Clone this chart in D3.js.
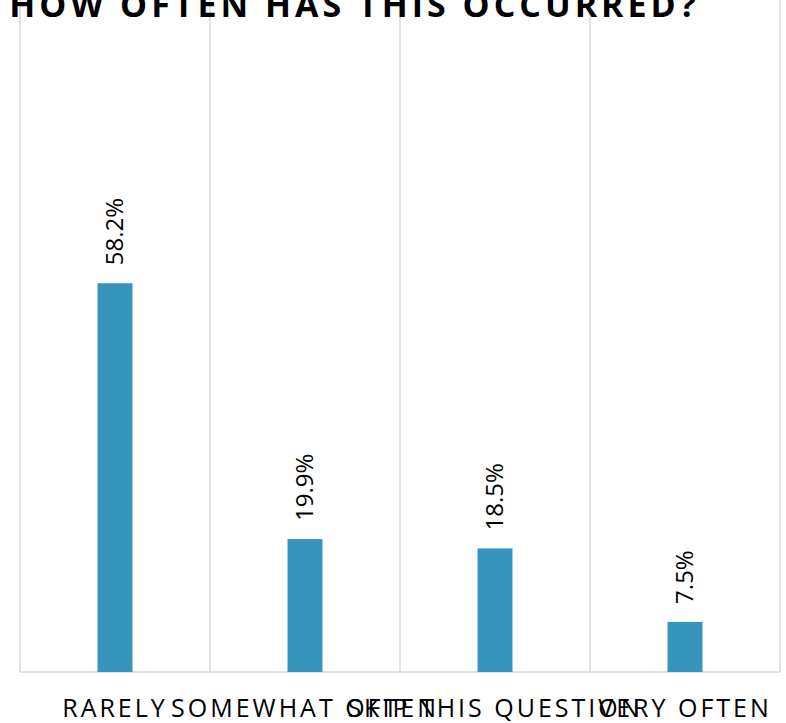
<!DOCTYPE html>
<html>
<head>
<meta charset="utf-8">
<script src="https://cdn.jsdelivr.net/npm/d3@7"></script>
<style>
  body { margin: 0; background: #fff; }
  svg { display: block; }
</style>
</head>
<body>
<div class="chart"></div>
<script>
// data
var categories = ["RARELY", "SOMEWHAT OFTEN", "SKIP THIS QUESTION", "VERY OFTEN"];
var values = [58.2, 19.9, 18.5, 7.5];
var title = "HOW OFTEN HAS THIS OCCURRED?";

var width = 786, height = 723;
var margin = { top: 4, right: 6, bottom: 51, left: 20 };

var svg = d3.select(".chart").append("svg")
    .attr("width", width)
    .attr("height", height);

var x = d3.scaleBand()
    .domain(categories)
    .range([margin.left, width - margin.right])
    .paddingInner(0).paddingOuter(0);

var y = d3.scaleLinear()
    .domain([0, 100])
    .range([height - margin.bottom, margin.top]);

// vertical gridlines at band edges
var edges = categories.map(function (c) { return x(c); }).concat([x.range()[1]]);
svg.append("g").selectAll("line")
    .data(edges)
    .enter().append("line")
    .attr("x1", function (d) { return d; })
    .attr("x2", function (d) { return d; })
    .attr("y1", 0)
    .attr("y2", y(0))
    .attr("stroke", "#d9d9d9")
    .attr("stroke-width", 1.5);

// baseline
svg.append("line")
    .attr("x1", x.range()[0]).attr("x2", x.range()[1])
    .attr("y1", y(0)).attr("y2", y(0))
    .attr("stroke", "#d9d9d9")
    .attr("stroke-width", 1.5);

var barW = 35;
svg.append("g").selectAll("rect")
    .data(values)
    .enter().append("rect")
    .attr("x", function (d, i) { return x(categories[i]) + x.bandwidth() / 2 - barW / 2; })
    .attr("y", function (d) { return y(d); })
    .attr("width", barW)
    .attr("height", function (d) { return y(0) - y(d); })
    .attr("fill", "#3795bc");

// value labels, rotated
svg.append("g").selectAll("text")
    .data(values)
    .enter().append("text")
    .attr("transform", function (d, i) {
        var cx = x(categories[i]) + x.bandwidth() / 2;
        return "translate(" + (cx + 8) + "," + (y(d) - 18) + ") rotate(-90)";
    })
    .attr("text-anchor", "start")
    .style("font-family", "'Open Sans', 'Noto Sans', sans-serif")
    .style("font-size", "24px")
    .style("fill", "#000")
    .text(function (d) { return d.toFixed(1) + "%"; });

// category labels
var xAxis = d3.axisBottom(x).tickSize(0).tickPadding(0);
var ax = svg.append("g")
    .attr("transform", "translate(0," + (height - 6) + ")")
    .call(xAxis);
ax.select(".domain").remove();
ax.selectAll("text")
    .attr("dy", 0)
    .style("font-family", "'Open Sans', sans-serif")
    .style("font-size", "25px")
    .style("letter-spacing", "3px")
    .style("fill", "#000");

// title, clipped off the top like the original
svg.append("text")
    .attr("x", 700)
    .attr("y", 17)
    .attr("text-anchor", "end")
    .style("font-family", "'Open Sans', 'Noto Sans', sans-serif")
    .style("font-weight", "bold")
    .style("font-size", "34px")
    .style("letter-spacing", "4px")
    .style("fill", "#000")
    .text(title);
</script>
</body>
</html>
